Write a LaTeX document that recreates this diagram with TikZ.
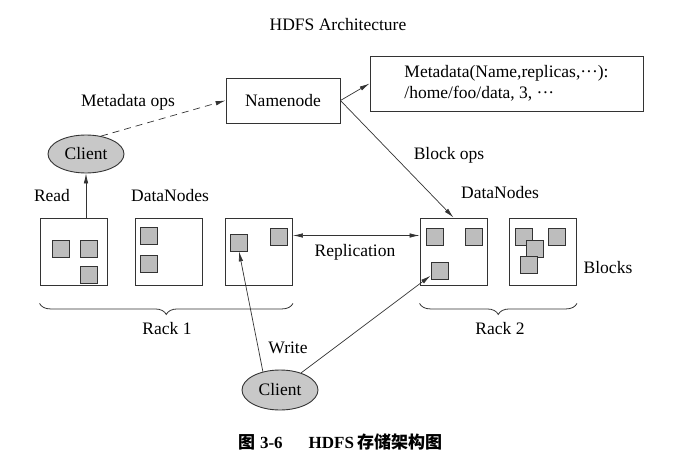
\documentclass[tikz,border=0pt]{standalone}
\usepackage{fontspec}
\setmainfont{Liberation Serif}
\newfontfamily\cjk{Noto Sans CJK SC}
\usepackage{tikz}
\usetikzlibrary{arrows.meta,shapes.geometric,decorations.pathreplacing}

\definecolor{linegray}{HTML}{333333}
\definecolor{clientgray}{HTML}{C8C8C8}
\definecolor{blockgray}{HTML}{BDBDBD}

\tikzset{
  arrow/.style={-{Latex[length=10pt,width=4.5pt]}, line width=0.7pt, draw=linegray},
  dblarrow/.style={{Latex[length=10pt,width=4.5pt]}-{Latex[length=10pt,width=4.5pt]}, line width=0.7pt, draw=linegray},
  rackbrace/.style={decorate, decoration={brace, amplitude=11pt, mirror}, line width=0.8pt, draw=linegray}
}

\begin{document}
\begin{tikzpicture}[x=1pt,y=-1pt,font=\fontsize{17.5}{20}\selectfont]
\useasboundingbox (0,0) rectangle (676,457);

\node (title) at (338,25) {HDFS Architecture};

\begin{scope}[every node/.style={rectangle,draw=linegray,line width=0.9pt}]
    \node[minimum width=114pt,minimum height=45pt] (namenode) at (283,100.5) {Namenode};
    \node[minimum width=273pt,minimum height=55pt,align=left,inner sep=0pt,
          font=\fontsize{17.5}{21}\selectfont] (meta) at (506.5,83.5)
        {Metadata(Name,replicas,···):\\/home/foo/data, 3, ···};
\end{scope}

\begin{scope}[every node/.style={ellipse,draw=linegray,fill=clientgray,line width=0.9pt,inner sep=0pt}]
    \node[minimum width=76pt,minimum height=38pt] (client1) at (86,154) {Client};
    \node[minimum width=76pt,minimum height=40pt] (client2) at (280,390) {Client};
\end{scope}

\begin{scope}[every node/.style={rectangle,draw=linegray,line width=0.9pt,minimum size=67pt,inner sep=0pt}]
    \node (box1) at (73.5,251.5) {};
    \node (box2) at (168.5,251.5) {};
    \node (box3) at (259,251.5) {};
    \node (box4) at (453.5,251.5) {};
    \node (box5) at (543,251.5) {};
\end{scope}

\begin{scope}[every node/.style={rectangle,draw=linegray,fill=blockgray,line width=0.8pt,minimum size=17pt,inner sep=0pt}]
    \node (b11) at (60.5,249) {};
    \node (b12) at (88.5,249) {};
    \node (b13) at (88.5,274.5) {};
    \node (b21) at (148.5,235.5) {};
    \node (b22) at (148.5,264) {};
    \node (b31) at (239,242.5) {};
    \node (b32) at (278.5,237) {};
    \node (b41) at (434.5,236.5) {};
    \node (b42) at (473.5,236.5) {};
    \node (b43) at (439.5,270.5) {};
    \node (b51) at (523.5,237) {};
    \node (b52) at (534.5,248.5) {};
    \node (b53) at (529,265) {};
    \node (b54) at (557,237) {};
\end{scope}

\begin{scope}[every node/.style={inner sep=1pt}]
    \node (metaops) at (128,102) {Metadata ops};
    \node (read) at (52,196) {Read};
    \node (dnleft) at (170,196) {DataNodes};
    \node (blockops) at (449,155) {Block ops};
    \node (dnright) at (500,193) {DataNodes};
    \node (replication) at (355,252) {Replication};
    \node (blocks) at (608,268) {Blocks};
    \node (rack1) at (167,329) {Rack 1};
    \node (rack2) at (500,329) {Rack 2};
    \node (write) at (288,348) {Write};
\end{scope}

\draw[arrow,dashed,dash pattern=on 7pt off 5pt] (client1.50) -- (namenode.west);
\draw[arrow] (namenode.east) -- (meta.west);
\draw[arrow] (namenode.east) -- (box4.north);
\draw[arrow] (box1.north -| client1.south) -- (client1.south);
\draw[dblarrow] ([yshift=16pt]box3.east) -- ([yshift=16pt]box4.west);
\draw[arrow] (client2.133) -- (b31.south);
\draw[arrow] (client2.39) -- (b43.210);

\draw[rackbrace] ([yshift=-18pt]box1.south west) -- ([yshift=-18pt]box3.south east);
\draw[rackbrace] ([yshift=-18pt]box4.south west) -- ([yshift=-18pt]box5.south east);

\node[font=\fontsize{17}{20}\selectfont] (caption) at (340,442)
    {{\cjk\bfseries 图}\hspace{5pt}\textbf{3-6}\hspace{26pt}\textbf{HDFS}\hspace{3pt}{\cjk\bfseries 存储架构图}};
\end{tikzpicture}
\end{document}
